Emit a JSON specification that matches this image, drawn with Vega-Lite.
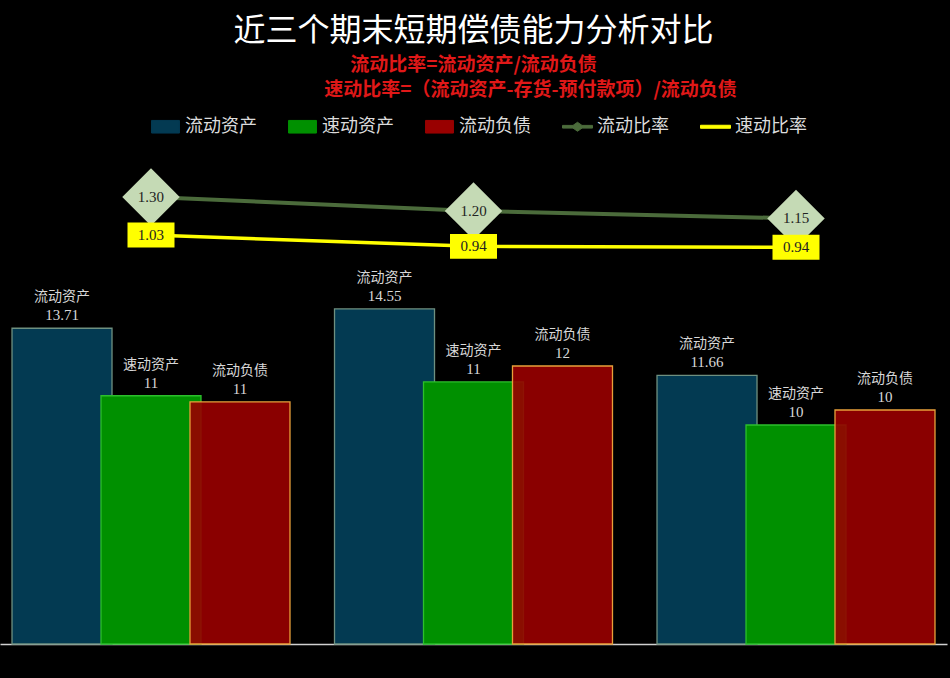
{
  "$schema": "https://vega.github.io/schema/vega-lite/v6.json",
  "autosize": {"type": "none"},
  "width": 947,
  "height": 494,
  "padding": {"left": 0, "top": 150, "right": 3, "bottom": 34},
  "background": "#000000",
  "title": {
    "text": "近三个期末短期偿债能力分析对比",
    "subtitle": [
      "流动比率=流动资产/流动负债",
      "​　　　　　　速动比率=（流动资产-存货-预付款项）/流动负债"
    ],
    "anchor": "middle",
    "frame": "group",
    "color": "#ffffff",
    "font": "Noto Sans CJK SC",
    "fontSize": 32,
    "fontWeight": "normal",
    "subtitleColor": "#e01818",
    "subtitleFont": "Noto Sans CJK SC",
    "subtitleFontSize": 19,
    "subtitleFontWeight": "bold",
    "subtitlePadding": 8,
    "subtitleLineHeight": 25,
    "offset": 10
  },
  "datasets": {
    "bars": [
      {"period": "期末1", "series": "流动资产", "value": 13.71},
      {"period": "期末1", "series": "速动资产", "value": 10.78},
      {"period": "期末1", "series": "流动负债", "value": 10.51},
      {"period": "期末2", "series": "流动资产", "value": 14.55},
      {"period": "期末2", "series": "速动资产", "value": 11.38},
      {"period": "期末2", "series": "流动负债", "value": 12.07},
      {"period": "期末3", "series": "流动资产", "value": 11.66},
      {"period": "期末3", "series": "速动资产", "value": 9.51},
      {"period": "期末3", "series": "流动负债", "value": 10.16}
    ],
    "ratios": [
      {"period": "期末1", "series": "流动比率", "ratio": 1.304},
      {"period": "期末2", "series": "流动比率", "ratio": 1.203},
      {"period": "期末3", "series": "流动比率", "ratio": 1.148},
      {"period": "期末1", "series": "速动比率", "ratio": 1.026},
      {"period": "期末2", "series": "速动比率", "ratio": 0.943},
      {"period": "期末3", "series": "速动比率", "ratio": 0.936}
    ]
  },
  "layer": [
    {
      "data": {"name": "bars"},
      "encoding": {
        "x": {
          "field": "period",
          "type": "nominal",
          "scale": {"paddingInner": 0.138, "paddingOuter": 0.0372},
          "axis": {"labels": false, "ticks": false, "title": null, "grid": false, "domainColor": "#d0d0d0", "domainWidth": 1.5}
        },
        "xOffset": {
          "field": "series",
          "type": "nominal",
          "sort": null,
          "scale": {"domain": ["流动资产", "速动资产", "流动负债"], "paddingInner": 0, "paddingOuter": 0.062}
        },
        "y": {
          "field": "value",
          "type": "quantitative",
          "scale": {"domain": [0, 21.45], "nice": false, "zero": true},
          "axis": null
        }
      },
      "layer": [
        {
          "mark": {"type": "bar", "width": 100, "strokeWidth": 1.3},
          "encoding": {
            "color": {
              "field": "series",
              "type": "nominal",
              "scale": {
                "domain": ["流动资产", "速动资产", "流动负债", "流动比率", "速动比率"],
                "range": ["#033a52", "#009000", "#990000", "#4b6b3b", "#ffff00"]
              },
              "legend": {
                "orient": "none",
                "legendX": 150,
                "legendY": -39,
                "direction": "horizontal",
                "columns": 5,
                "title": null,
                "symbolSize": 900,
                "labelFont": "Noto Sans CJK SC",
                "labelFontSize": 18,
                "labelColor": "#dcdcdc",
                "labelOffset": 4,
                "columnPadding": 29,
                "encode": {
                  "symbols": {
                    "update": {
                      "shape": {"signal": "datum.value === '流动比率' ? 'M-1,-0.09H-0.3L0,-0.3L0.3,-0.09H1V0.09H0.3L0,0.3L-0.3,0.09H-1Z' : datum.value === '速动比率' ? 'M-1,-0.1H1V0.1H-1Z' : 'M-0.93,-0.42H0.93V0.42H-0.93Z'"},
                      "fill": {"scale": "color", "field": "value"},
                      "fillOpacity": {"value": 1},
                      "stroke": {"signal": "datum.value === '流动资产' ? '#7f9f8f' : datum.value === '流动负债' ? '#e8a03a' : 'transparent'"},
                      "strokeWidth": {"value": 1}
                    }
                  }
                }
              }
            },
            "stroke": {
              "field": "series",
              "type": "nominal",
              "scale": {"domain": ["流动资产", "速动资产", "流动负债"], "range": ["#6f9080", "#2cbf2c", "#e8a03a"]},
              "legend": null
            },
            "fillOpacity": {
              "condition": {"test": "datum.series === '流动负债'", "value": 0.9},
              "value": 1
            }
          }
        },
        {
          "mark": {"type": "text", "baseline": "bottom", "dy": -24, "font": "Noto Sans CJK SC", "fontSize": 14, "color": "#d8d8d8"},
          "encoding": {"text": {"field": "series", "type": "nominal"}}
        },
        {
          "mark": {"type": "text", "baseline": "bottom", "dy": -5, "font": "Liberation Serif", "fontSize": 15, "color": "#d8d8d8"},
          "encoding": {
            "text": {
              "condition": {"test": "datum.series === '流动资产'", "field": "value", "type": "quantitative", "format": ".2f"},
              "field": "value",
              "type": "quantitative",
              "format": ".0f"
            }
          }
        }
      ]
    },
    {
      "data": {"name": "ratios"},
      "encoding": {
        "x": {
          "field": "period",
          "type": "nominal",
          "scale": {"paddingInner": 0.138, "paddingOuter": 0.0372}
        },
        "y": {
          "field": "ratio",
          "type": "quantitative",
          "scale": {"domain": [-1.97, 1.649], "nice": false, "zero": false},
          "axis": null
        }
      },
      "layer": [
        {
          "mark": {"type": "line"},
          "encoding": {
            "color": {"field": "series", "type": "nominal"},
            "strokeWidth": {
              "condition": {"test": "datum.series === '速动比率'", "value": 3.5},
              "value": 4
            }
          }
        },
        {
          "transform": [{"filter": "datum.series === '流动比率'"}],
          "mark": {"type": "point", "shape": "diamond", "size": 3300, "filled": true, "opacity": 1, "color": "#c5dab5"}
        },
        {
          "transform": [{"filter": "datum.series === '速动比率'"}],
          "mark": {"type": "point", "shape": "M-1,-0.53H1V0.53H-1Z", "size": 2209, "filled": true, "opacity": 1, "color": "#ffff00"}
        },
        {
          "mark": {"type": "text", "font": "Liberation Serif", "fontSize": 15, "color": "#222222", "baseline": "middle"},
          "encoding": {"text": {"field": "ratio", "type": "quantitative", "format": ".2f"}}
        }
      ]
    }
  ],
  "resolve": {"scale": {"y": "independent"}},
  "config": {
    "view": {"stroke": null}
  }
}
